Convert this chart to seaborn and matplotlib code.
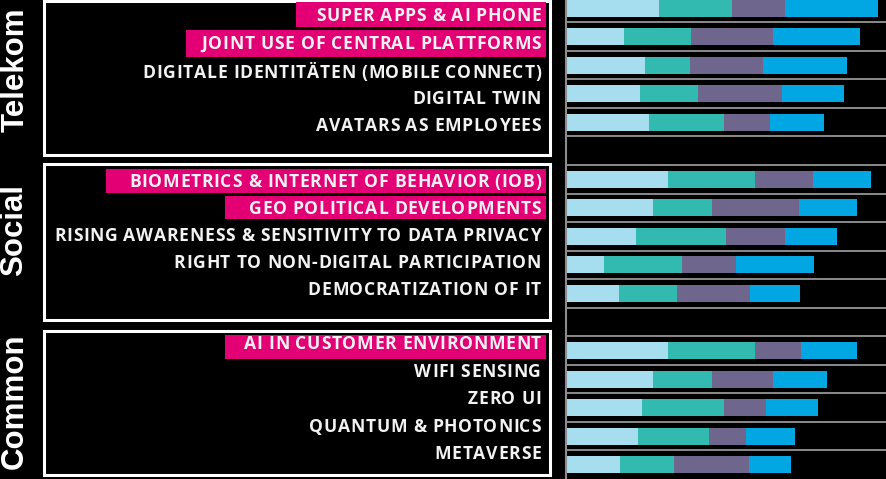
import numpy as np
import pandas as pd
import matplotlib
matplotlib.use("Agg")
import matplotlib.pyplot as plt
from matplotlib.patches import Rectangle
from matplotlib.font_manager import FontProperties, findfont, get_font
import seaborn as sns

# ---------------- data ----------------
groups = ["Telekom", "Social", "Common"]
labels_telekom = ["SUPER APPS & AI PHONE", "JOINT USE OF CENTRAL PLATTFORMS",
                  "DIGITALE IDENTITÄTEN (MOBILE CONNECT)", "DIGITAL TWIN",
                  "AVATARS AS EMPLOYEES"]
labels_social = ["BIOMETRICS & INTERNET OF BEHAVIOR (IOB)", "GEO POLITICAL DEVELOPMENTS",
                 "RISING AWARENESS & SENSITIVITY TO DATA PRIVACY",
                 "RIGHT TO NON-DIGITAL PARTICIPATION", "DEMOCRATIZATION OF IT"]
labels_common = ["AI IN CUSTOMER ENVIRONMENT", "WIFI SENSING", "ZERO UI",
                 "QUANTUM & PHOTONICS", "METAVERSE"]
highlighted = ["SUPER APPS & AI PHONE", "JOINT USE OF CENTRAL PLATTFORMS",
               "BIOMETRICS & INTERNET OF BEHAVIOR (IOB)", "GEO POLITICAL DEVELOPMENTS",
               "AI IN CUSTOMER ENVIRONMENT"]

seg1 = [3.20, 1.99, 2.70, 2.55, 2.85, 3.49, 3.00, 2.40, 1.32, 1.82, 3.49, 3.00, 2.60, 2.48, 1.85]
seg2 = [2.50, 2.30, 1.56, 2.00, 2.58, 3.00, 2.00, 3.10, 2.67, 2.00, 3.00, 2.00, 2.83, 2.45, 1.87]
seg3 = [1.81, 2.81, 2.51, 2.88, 1.58, 2.00, 3.00, 2.02, 1.85, 2.50, 1.60, 2.10, 1.43, 1.27, 2.58]
seg4 = [3.20, 2.99, 2.88, 2.14, 1.86, 1.99, 1.99, 1.79, 2.67, 1.72, 1.90, 1.88, 1.80, 1.67, 1.42]

seg_colors = ["#A6DDEF", "#33BAB0", "#6F668D", "#00A7E2"]
pink = "#E20074"

# ---------------- layout ----------------
W, H = 887, 479
DPI = 100
sns.set_theme(style="dark")
plt.rcParams["font.family"] = ["Open Sans", "DejaVu Sans"]

fig = plt.figure(figsize=(W / DPI, H / DPI), dpi=DPI, facecolor="black")

all_labels = labels_telekom + labels_social + labels_common
order = labels_telekom + [""] + labels_social + [" "] + labels_common
df = pd.DataFrame({"label": all_labels,
                   "s1": seg1, "s2": seg2, "s3": seg3, "s4": seg4})
df["c1"] = df["s1"]
df["c2"] = df["c1"] + df["s2"]
df["c3"] = df["c2"] + df["s3"]
df["c4"] = df["c3"] + df["s4"]

# --- bar axes ---
axL = 566
ax = fig.add_axes([axL / W, 0, (W - axL) / W, 1])
ax.set_facecolor("black")
for col, c in zip(["c4", "c3", "c2", "c1"], seg_colors[::-1]):
    sns.barplot(data=df, x=col, y="label", order=order, color=c, width=0.6,
                errorbar=None, orient="h", ax=ax, linewidth=0, saturation=1)
ax.set_xlim(0, (W - axL) / 29.1)
ax.set_ylim(16.5, -0.28)
ax.set_xlabel("")
ax.set_ylabel("")
ax.set_xticks([])
ax.set_yticks([])
ax.set_yticks(np.arange(0.5, 16, 1), minor=True)
ax.tick_params(which="both", left=False, labelleft=False, bottom=False)
ax.grid(False)
ax.grid(True, which="minor", axis="y", color="#A3A3A3", linewidth=1.2)
ax.set_axisbelow(True)
for s in ["top", "right", "bottom"]:
    ax.spines[s].set_visible(False)
ax.spines["left"].set_visible(True)
ax.spines["left"].set_color("#8C8C8C")
ax.spines["left"].set_linewidth(1.5)

# --- label panel ---
lp = fig.add_axes([0, 0, axL / W, 1])
lp.set_xlim(0, axL)
lp.set_ylim(H, 0)
lp.axis("off")
lp.set_facecolor("black")

boxes = [(1, 154.5), (164, 320), (330.5, 474.5)]
for top, bot in boxes:
    lp.add_patch(Rectangle((43.5, top), 506.5, bot - top, fill=False,
                           edgecolor="white", linewidth=2.2))

group_pos = [(16, 70), (14, 230), (15, 401)]
for g, (gx, gy) in zip(groups, group_pos):
    lp.text(gx, gy, g, rotation=90, ha="center", va="center", color="white",
            fontsize=22.5, fontweight="bold", family=["Liberation Sans", "DejaVu Sans"])

pink_boxes = {"SUPER APPS & AI PHONE": (296, 2, 27),
              "JOINT USE OF CENTRAL PLATTFORMS": (186, 30, 57),
              "BIOMETRICS & INTERNET OF BEHAVIOR (IOB)": (106, 169, 193),
              "GEO POLITICAL DEVELOPMENTS": (225, 196, 219),
              "AI IN CUSTOMER ENVIRONMENT": (225, 335, 359)}
for lab in highlighted:
    x0, y0, y1 = pink_boxes[lab]
    lp.add_patch(Rectangle((x0, y0), 546 - x0, y1 - y0, facecolor=pink,
                           edgecolor="none"))

text_y = [15, 43, 72, 98, 125, 181, 208, 235, 262, 289, 343, 371, 398, 426, 453]

# letter-spaced labels: per-glyph advances from the font itself
fs = 12.6  # pt
fprop = FontProperties(family="Open Sans", weight="bold", size=fs)
ft = get_font(findfont(fprop))
ft.set_size(fs, DPI)


def advances(s):
    out = []
    for ch in s:
        g = ft.load_char(ord(ch))
        out.append(g.linearHoriAdvance / 65536.0)
    return out


longest = labels_social[2]
nat = sum(advances(longest))
track = (487 - nat) / (len(longest) - 1)

for lab, ty in zip(all_labels, text_y):
    adv = advances(lab)
    total = sum(adv) + track * (len(lab) - 1)
    x = 541 - total
    for ch, a in zip(lab, adv):
        if ch != " ":
            lp.text(x, ty + 6, ch, ha="left", va="baseline", color="#F2F2F2",
                    fontproperties=fprop)
        x += a + track

fig.savefig("out.png", dpi=DPI, facecolor="black")
